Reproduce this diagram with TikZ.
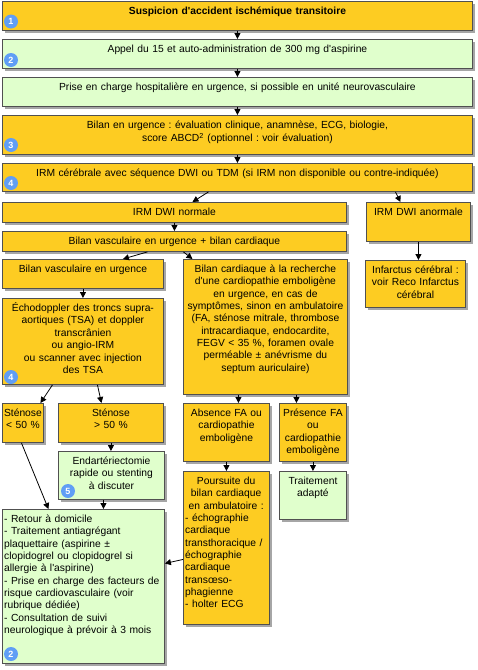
\documentclass[tikz,border=0pt]{standalone}
\usepackage{fontspec}
\setmainfont{Liberation Sans}
\usepackage{tikz}
\usetikzlibrary{arrows.meta,shadows}
\definecolor{boxorange}{RGB}{253,204,34}
\definecolor{boxgreen}{RGB}{224,255,204}
\definecolor{boxline}{RGB}{80,80,80}
\definecolor{badgeblue}{RGB}{96,158,245}
\newcommand{\qs}{\textquotesingle}
\frenchspacing

\begin{document}
\begin{tikzpicture}[x=1pt,y=-1pt,>={Triangle[length=6pt,width=6pt]},
  box/.style={draw=boxline,line width=0.9pt,anchor=north west,inner sep=0pt,
    drop shadow={shadow xshift=2.5pt,shadow yshift=-2.5pt,fill=black,opacity=0.35}},
  obox/.style={box,fill=boxorange},
  gbox/.style={box,fill=boxgreen},
  txt/.style={anchor=north,inner sep=0pt,align=center,
    font=\fontsize{10.3}{12.35}\selectfont,execute at begin node=\strut},
  txtl/.style={txt,anchor=north west,align=left},
  badge/.style={circle,fill=badgeblue,text=white,inner sep=0pt,minimum size=14pt,
    font=\fontsize{9}{9}\selectfont\bfseries},
  link/.style={->,line width=0.8pt}]
  \useasboundingbox (0,0) rectangle (478,670);

  \node[obox,minimum width=470,minimum height=29] (sus) at (2,1) {};
  \node[gbox,minimum width=470,minimum height=29] (appel) at (2,39) {};
  \node[gbox,minimum width=470,minimum height=29] (prise) at (2,77) {};
  \node[obox,minimum width=470,minimum height=39] (bilan) at (2,115) {};
  \node[obox,minimum width=470,minimum height=28] (irm) at (2,163) {};
  \node[obox,minimum width=344,minimum height=20] (dwin) at (2,202) {};
  \node[obox,minimum width=104,minimum height=39] (dwia) at (366,202) {};
  \node[obox,minimum width=344,minimum height=20] (bvc) at (2,231) {};
  \node[obox,minimum width=161,minimum height=29] (bv) at (2,259) {};
  \node[obox,minimum width=164,minimum height=135] (bc) at (183,259) {};
  \node[obox,minimum width=100,minimum height=47] (inf) at (365,260) {};
  \node[obox,minimum width=161,minimum height=86] (echo) at (2,298) {};
  \node[obox,minimum width=41,minimum height=39] (sa) at (2,403) {};
  \node[obox,minimum width=105,minimum height=39] (sb) at (58,403) {};
  \node[gbox,minimum width=106,minimum height=48] (endo) at (58,451) {};
  \node[obox,minimum width=86,minimum height=58] (abs) at (183,403) {};
  \node[obox,minimum width=67,minimum height=58] (pres) at (279,403) {};
  \node[obox,minimum width=86,minimum height=153] (pours) at (183,471) {};
  \node[gbox,minimum width=67,minimum height=48] (trait) at (279,471) {};
  \node[gbox,minimum width=162,minimum height=154] (ret) at (2,509) {};

  \node[txt,text width=466] (sus-t) at ([yshift=-4.5pt]sus.north)
    {\bfseries Suspicion d\qs accident ischémique transitoire};
  \node[txt,text width=466] (appel-t) at ([yshift=-4.5pt]appel.north)
    {Appel du 15 et auto-administration de 300 mg d\qs aspirine};
  \node[txt,text width=466] (prise-t) at ([yshift=-4.5pt]prise.north)
    {Prise en charge hospitalière en urgence, si possible en unité neurovasculaire};
  \node[txt,text width=466] (bilan-t) at ([yshift=-4.5pt]bilan.north)
    {Bilan en urgence : évaluation clinique, anamnèse, ECG, biologie,\\
     score ABCD\textsuperscript{2} (optionnel : voir évaluation)};
  \node[txt,text width=466] (irm-t) at ([yshift=-4.5pt]irm.north)
    {IRM cérébrale avec séquence DWI ou TDM (si IRM non disponible ou contre-indiquée)};
  \node[txt,text width=340] (dwin-t) at ([yshift=-4.5pt]dwin.north) {IRM DWI normale};
  \node[txt,text width=104] (dwia-t) at ([yshift=-4.5pt]dwia.north) {IRM DWI anormale};
  \node[txt,text width=340] (bvc-t) at ([yshift=-4.5pt]bvc.north)
    {Bilan vasculaire en urgence + bilan cardiaque};
  \node[txt,text width=161] (bv-t) at ([yshift=-4.5pt]bv.north) {Bilan vasculaire en urgence};
  \node[txt,text width=172] (bc-t) at ([yshift=-4.5pt]bc.north)
    {Bilan cardiaque à la recherche\\d\qs une cardiopathie emboligène\\en urgence, en cas de\\
     symptômes, sinon en ambulatoire\\(FA, sténose mitrale, thrombose\\
     intracardiaque, endocardite,\\FEGV < 35 \%, foramen ovale\\perméable ± anévrisme du\\
     septum auriculaire)};
  \node[txt,text width=104] (inf-t) at ([yshift=-4.5pt]inf.north)
    {Infarctus cérébral :\\voir Reco Infarctus\\cérébral};
  \node[txt,text width=165] (echo-t) at ([yshift=-4.5pt]echo.north)
    {Échodoppler des troncs supra-\\aortiques (TSA) et doppler\\transcrânien\\ou angio-IRM\\
     ou scanner avec injection\\des TSA};
  \node[txt,text width=41] (sa-t) at ([yshift=-4.5pt]sa.north) {Sténose\\< 50 \%};
  \node[txt,text width=105] (sb-t) at ([yshift=-4.5pt]sb.north) {Sténose\\> 50 \%};
  \node[txt,text width=106] (endo-t) at ([yshift=-4.5pt]endo.north)
    {Endartériectomie\\rapide ou stenting\\à discuter};
  \node[txt,text width=86] (abs-t) at ([yshift=-4.5pt]abs.north)
    {Absence FA ou\\cardiopathie\\emboligène};
  \node[txt,text width=67] (pres-t) at ([yshift=-4.5pt]pres.north)
    {Présence FA\\ou\\cardiopathie\\emboligène};
  \node[txtl,text width=82] (pours-t) at ([xshift=2pt,yshift=-4.5pt]pours.north west)
    {{\centering Poursuite du\\bilan cardiaque\\en ambulatoire :\par}
     - échographie\\cardiaque\\transthoracique /\\échographie\\cardiaque\\transœso-\\
     phagienne\\- holter ECG};
  \node[txt,text width=67] (trait-t) at ([yshift=-4.5pt]trait.north) {Traitement\\adapté};
  \node[txtl,text width=170] (ret-t) at ([xshift=2pt,yshift=-4.5pt]ret.north west)
    {- Retour à domicile\\- Traitement antiagrégant\\plaquettaire (aspirine ±\\
     clopidogrel ou clopidogrel si\\allergie à l\qs aspirine)\\
     - Prise en charge des facteurs de\\risque cardiovasculaire (voir\\rubrique dédiée)\\
     - Consultation de suivi\\neurologique à prévoir à 3 mois};

  \node[badge] (g1) at (11,21.5) {1};
  \node[badge] (g2) at (11,60) {2};
  \node[badge] (g3) at (11,145) {3};
  \node[badge] (g4) at (11,183) {4};
  \node[badge] (g4b) at (11,377) {4};
  \node[badge] (g5) at (68,491) {5};
  \node[badge] (g2b) at (11,654) {2};

  \draw[link] (sus) -- (appel);
  \draw[link] (appel) -- (prise);
  \draw[link] (prise) -- (bilan);
  \draw[link] (bilan) -- (irm);
  \draw[link] ([xshift=-29pt]irm.south) -- ([xshift=18pt]dwin.north);
  \draw[link] ([xshift=158pt]irm.south) -- ([xshift=-18pt]dwia.north);
  \draw[link] (dwin) -- (bvc);
  \draw[link] (dwia.south) -- (dwia.south |- inf.north);
  \draw[link] ([xshift=-27pt]bvc.south) -- ([xshift=40pt]bv.north);
  \draw[link] ([xshift=9pt]bvc.south) -- ([xshift=-73pt]bc.north);
  \draw[link] (bv) -- (echo);
  \draw[link] ([xshift=-30.5pt]echo.south) -- ([xshift=17.5pt]sa.north);
  \draw[link] ([xshift=14.5pt]echo.south) -- ([xshift=-9.5pt]sb.north);
  \draw[link] ([xshift=-1.5pt]sa.south) -- ([xshift=-35pt]ret.north);
  \draw[link] (sb.south) -- (sb.south |- endo.north);
  \draw[link] ([xshift=-8pt]endo.south) -- ([xshift=-8pt]endo.south |- ret.north);
  \draw[link] ([xshift=-27pt]bc.south) -- ([xshift=-27pt]bc.south |- abs.north);
  \draw[link] ([xshift=31pt]bc.south) -- ([xshift=31pt]bc.south |- pres.north);
  \draw[link] (abs) -- (pours);
  \draw[link] (pres) -- (trait);
  \draw[link] ([yshift=-11.5pt]pours.west) -- ([yshift=23pt]ret.east);
\end{tikzpicture}
\end{document}
